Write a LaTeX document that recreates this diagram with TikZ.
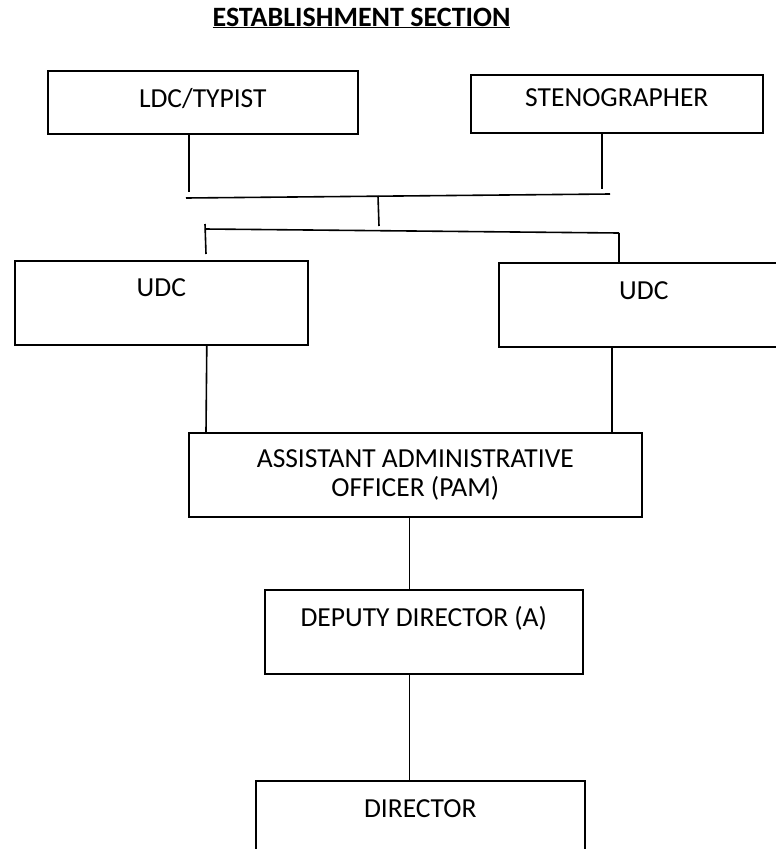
\documentclass[tikz,border=0pt]{standalone}
\usepackage{fontspec}
\setmainfont{Carlito}
\usepackage{tikz}
\usetikzlibrary{positioning}
\tikzset{post/.style={draw=black, line width=1.6pt, inner xsep=0pt, inner ysep=0pt, anchor=north west, align=center,
                      font=\fontsize{27.5}{29}\selectfont}}
\tikzset{link/.style={draw=black, line width=1.6pt}}

\begin{document}
\begin{tikzpicture}[x=1pt, y=-1pt]
				\useasboundingbox (0, 0) rectangle (776, 849);

				\node (Title) [anchor=base, font=\bfseries\fontsize{28}{30}\selectfont] at (361.5, 26) {\underline{ESTABLISHMENT SECTION}};

				\node (Ldc) [post, minimum width=310pt, text height=37pt, text depth=26pt] at (47, 70) {LDC/TYPIST};
				\node (Steno) [post, minimum width=292pt, text height=32pt, text depth=26pt] at (470, 74) {STENOGRAPHER};

				\coordinate (LdcFoot) at (189, 192);
				\draw [link] (Ldc.south -| LdcFoot) -- (LdcFoot);
				\coordinate (StenoFoot) at (602, 189);
				\draw [link] (Steno.south -| StenoFoot) -- (StenoFoot);

				\coordinate (BusTopL) at (186, 198);
				\coordinate (BusTopR) at (610, 194);
				\draw [link] (BusTopL) -- (BusTopR);

				\coordinate (BusMid) at (378, 196);
				\coordinate (BusMidFoot) at (379, 226);
				\draw [link] (BusMid) -- (BusMidFoot);

				\coordinate (BusLowL) at (205, 229);
				\coordinate (BusLowR) at (619, 233);
				\draw [link] (BusLowL) -- (BusLowR);

				\node (UdcL) [post, minimum width=293pt, text height=36pt, text depth=48pt] at (14, 260) {UDC};
				\node (UdcR) [post, minimum width=290pt, text height=37pt, text depth=47pt] at (498, 262) {UDC};

				\coordinate (DropL) at (205, 224);
				\coordinate (DropLFoot) at (206, 254);
				\draw [link] (DropL) -- (DropLFoot);
				\draw [link] (BusLowR) -- (UdcR.north -| BusLowR);

				\node (Aao) [post, minimum width=453pt, text height=64pt, text depth=20pt] at (188, 432) {ASSISTANT ADMINISTRATIVE\\OFFICER (PAM)};
				\draw [link] ([xshift=45.5pt]UdcL.south) -- (Aao.north -| DropLFoot);
				\draw [link] ([xshift=-32pt]UdcR.south) -- ([xshift=-32pt]UdcR.south |- Aao.north);

				\node (Deputy) [post, minimum width=318pt, text height=37pt, text depth=47pt] at (264, 589) {DEPUTY DIRECTOR (A)};
				\node (Director) [post, minimum width=329pt, text height=37pt, text depth=47pt] at (255, 780) {DIRECTOR};

				\coordinate (Spine) at (409.5, 0);
				\draw [link] (Aao.south -| Spine) -- (Deputy.north -| Spine);
				\draw [link] (Deputy.south -| Spine) -- (Director.north -| Spine);
\end{tikzpicture}
\end{document}
